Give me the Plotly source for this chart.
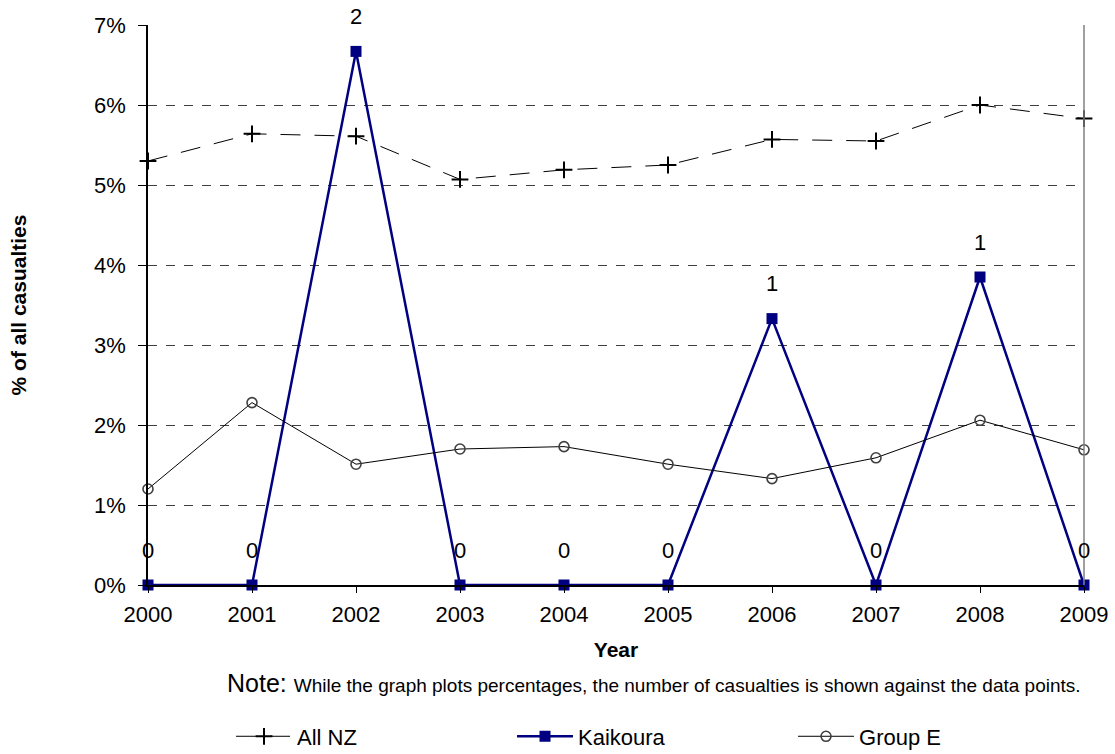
import plotly.graph_objects as go

years = [2000, 2001, 2002, 2003, 2004, 2005, 2006, 2007, 2008, 2009]
all_nz = [5.30, 5.64, 5.61, 5.07, 5.19, 5.25, 5.57, 5.55, 6.00, 5.83]
kaikoura = [0.0, 0.0, 6.67, 0.0, 0.0, 0.0, 3.33, 0.0, 3.85, 0.0]
kaikoura_counts = [0, 0, 2, 0, 0, 0, 1, 0, 1, 0]
group_e = [1.20, 2.28, 1.51, 1.70, 1.73, 1.51, 1.33, 1.59, 2.06, 1.69]
y_ticks = [0, 1, 2, 3, 4, 5, 6, 7]
y_tick_labels = [f"{v}%" for v in y_ticks]

FONT = "Liberation Sans, Arial, sans-serif"

fig = go.Figure()
fig.add_trace(go.Scatter(
    x=years, y=all_nz, name="All NZ", mode="lines+markers",
    line=dict(color="black", width=1, dash="20px,14px"),
    marker=dict(symbol="cross-thin", size=12, line=dict(color="black", width=2)),
    cliponaxis=False,
))
fig.add_trace(go.Scatter(
    x=years, y=kaikoura, name="Kaikoura", mode="lines+markers",
    line=dict(color="#000080", width=2.5),
    marker=dict(symbol="square", size=11, color="#000080"),
    cliponaxis=False,
))
fig.add_trace(go.Scatter(
    x=years, y=group_e, name="Group E", mode="lines+markers",
    line=dict(color="black", width=1),
    marker=dict(symbol="circle-open", size=10, color="#404040", line=dict(width=1.6)),
    cliponaxis=False,
))

for x, y, c in zip(years, kaikoura, kaikoura_counts):
    fig.add_annotation(
        x=x, y=y, text=str(c), showarrow=False, yshift=35,
        font=dict(family=FONT, size=22, color="black"),
    )

fig.add_annotation(
    xref="paper", yref="paper", x=0.082, y=-0.175, xanchor="left", yanchor="middle",
    text="Note: <span style='font-size:19px'>While the graph plots percentages, the number of casualties is shown against the data points.</span>",
    showarrow=False, font=dict(family=FONT, size=25, color="black"),
)

fig.add_shape(type="line", xref="paper", yref="paper", x0=1, x1=1, y0=0, y1=1,
              line=dict(color="#808080", width=1.5))

fig.update_layout(
    width=1115, height=754,
    margin=dict(l=148, r=31, t=25, b=169, autoexpand=False),
    paper_bgcolor="white", plot_bgcolor="white",
    font=dict(family=FONT, size=22, color="black"),
    showlegend=True,
    legend=dict(
        orientation="h", x=0.0887, y=-0.233, xanchor="left", yanchor="top",
        font=dict(family=FONT, size=22, color="black"),
        entrywidth=210, entrywidthmode="pixels", itemwidth=56,
        bgcolor="rgba(0,0,0,0)",
    ),
    xaxis=dict(
        range=[2000, 2009], tickmode="array", tickvals=years,
        ticktext=[str(y) for y in years],
        showgrid=False, zeroline=False,
        showline=True, linecolor="black", linewidth=1.5,
        ticks="outside", ticklen=6, tickcolor="black",
        ticklabelstandoff=3,
        tickfont=dict(family=FONT, size=22),
        title=dict(text="<b>Year</b>", font=dict(family=FONT, size=21), standoff=16),
    ),
    yaxis=dict(
        range=[0, 7], tickmode="array", tickvals=y_ticks, ticktext=y_tick_labels,
        showgrid=True, gridcolor="#404040", griddash="dash", gridwidth=1,
        zeroline=False,
        showline=True, linecolor="black", linewidth=1.5,
        ticks="outside", ticklen=8, tickcolor="black",
        ticklabelstandoff=8,
        tickfont=dict(family=FONT, size=22),
        title=dict(text="<b>% of all casualties</b>", font=dict(family=FONT, size=21), standoff=62),
    ),
)

fig.write_html("out.html", config={"displayModeBar": False},
               post_script="document.body.style.margin='0';")
